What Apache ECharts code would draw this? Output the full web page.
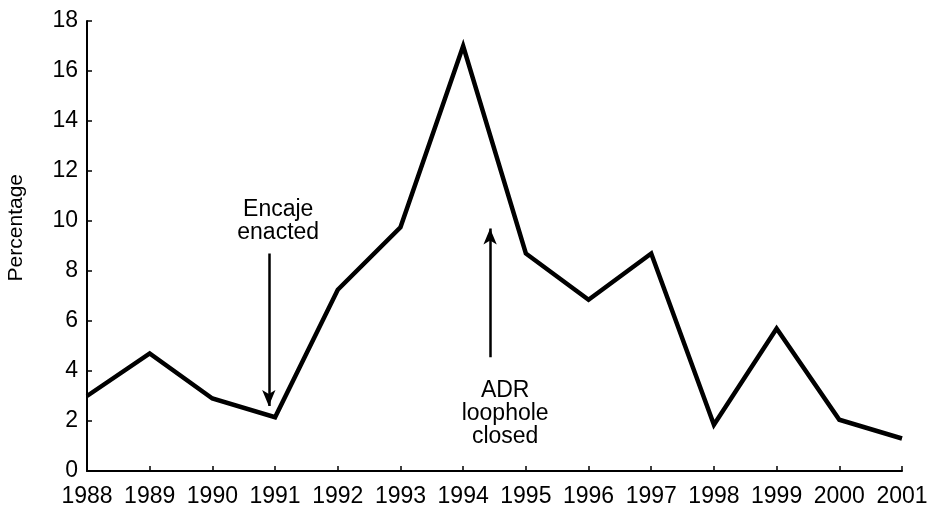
<!DOCTYPE html>
<html lang="en">
<head>
  <meta charset="UTF-8">
  <title>Percentage</title>
  <style>
    html, body { margin: 0; padding: 0; background: #fff; }
    #main { width: 935px; height: 510px; }
  </style>
</head>
<body>
<div id="main"></div>
<script src="https://cdn.jsdelivr.net/npm/echarts@6/dist/echarts.min.js"></script>
<script>
  // data
  var years = [1988, 1989, 1990, 1991, 1992, 1993, 1994, 1995, 1996, 1997, 1998, 1999, 2000, 2001];
  var values = [3.0, 4.7, 2.9, 2.15, 7.25, 9.75, 17.0, 8.7, 6.85, 8.7, 1.85, 5.7, 2.05, 1.3];
  var yTicks = [0, 18, 2];

  // annotations: [x, yFrom, yTo]
  var encajeArrow = [1990.9, 8.7, 2.6];
  var adrArrow = [1994.43, 4.55, 9.7];
  var encajeText = [1991.05, 9.98, 'Encaje\nenacted'];
  var adrText = [1994.67, 2.28, 'ADR\nloophole\nclosed'];

  var font = 'Liberation Sans';
  var points = years.map(function (y, i) { return [y, values[i]]; });

  var chart = echarts.init(document.getElementById('main'));
  chart.setOption({
    animation: false,
    grid: { left: 87, right: 33, top: 21, bottom: 39 },
    graphic: [{
      type: 'text',
      left: 6,
      top: 174,
      rotation: Math.PI / 2,
      style: { text: 'Percentage', fill: '#000', font: '21px "Liberation Sans"' }
    }],
    xAxis: {
      type: 'value',
      min: years[0],
      max: years[years.length - 1],
      interval: 1,
      splitLine: { show: false },
      axisLine: { lineStyle: { color: '#000', width: 2 } },
      axisTick: { inside: true, length: 5, lineStyle: { color: '#000', width: 1.5 } },
      axisLabel: {
        color: '#000', fontFamily: font, fontSize: 23, margin: 14,
        formatter: function (v) { return String(v); }
      }
    },
    yAxis: {
      type: 'value',
      min: yTicks[0],
      max: yTicks[1],
      interval: yTicks[2],
      splitLine: { show: false },
      axisLine: { show: true, lineStyle: { color: '#000', width: 2 } },
      axisTick: { show: true, inside: true, length: 5, lineStyle: { color: '#000', width: 1.5 } },
      axisLabel: { color: '#000', fontFamily: font, fontSize: 23, margin: 9 }
    },
    series: [{
      type: 'line',
      data: points,
      symbol: 'none',
      lineStyle: { color: '#000', width: 4.5, join: 'miter' },
      markLine: {
        silent: true,
        symbol: ['none', 'arrow'],
        symbolSize: [10, 16],
        label: { show: false },
        lineStyle: { color: '#000', width: 2.5, type: 'solid' },
        data: [
          [{ coord: [encajeArrow[0], encajeArrow[1]] }, { coord: [encajeArrow[0], encajeArrow[2]] }],
          [{ coord: [adrArrow[0], adrArrow[1]] }, { coord: [adrArrow[0], adrArrow[2]] }]
        ]
      },
      markPoint: {
        silent: true,
        symbol: 'circle',
        symbolSize: 0,
        label: {
          show: true,
          color: '#000',
          fontFamily: font,
          fontSize: 23,
          lineHeight: 23,
          align: 'center',
          verticalAlign: 'middle',
          formatter: function (p) { return p.name; }
        },
        data: [
          { name: encajeText[2], coord: [encajeText[0], encajeText[1]] },
          { name: adrText[2], coord: [adrText[0], adrText[1]] }
        ]
      }
    }]
  });
</script>
</body>
</html>
